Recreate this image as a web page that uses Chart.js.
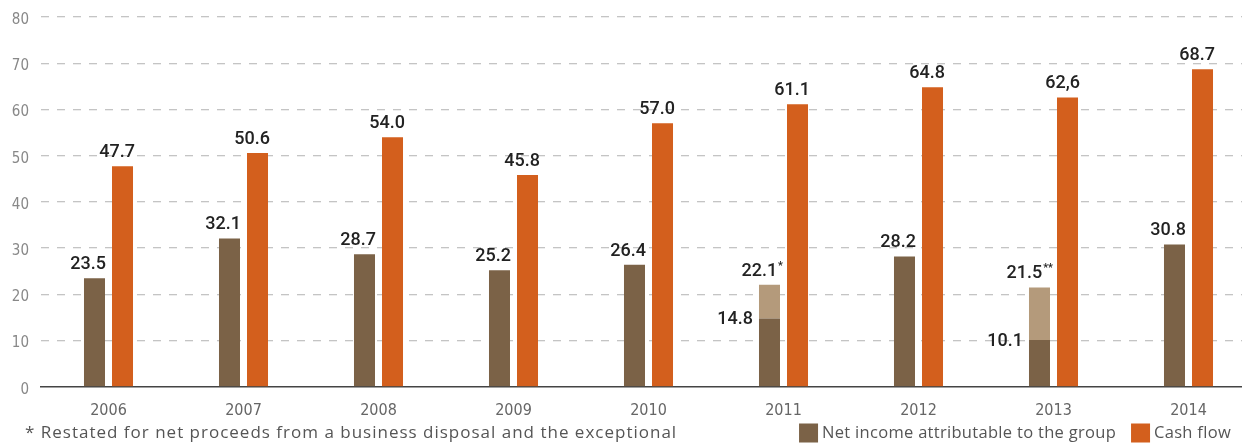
<!DOCTYPE html>
<html>
<head>
<meta charset="utf-8">
<script src="https://cdn.jsdelivr.net/npm/chart.js@4.4.1/dist/chart.umd.min.js"></script>
<style>
  html, body { margin: 0; padding: 0; background: #fff; overflow: hidden; }
  #wrap { width: 1256px; height: 445px; }
</style>
</head>
<body>
<div id="wrap"><canvas id="chart" width="1256" height="445"></canvas></div>
<script>
// values
const years = ['2006', '2007', '2008', '2009', '2010', '2011', '2012', '2013', '2014']
const netIncome = [23.5, 32.1, 28.7, 25.2, 26.4, 14.8, 28.2, 10.1, 30.8]
const restatedNetIncome = [null, null, null, null, null, 22.1, null, 21.5, null]
const restatedMarks = ['', '', '', '', '', '*', '', '**', '']
const cashFlow = [47.7, 50.6, 54.0, 45.8, 57.0, 61.1, 64.8, 62.6, 68.7]
const cashFlowLabels = ['47.7', '50.6', '54.0', '45.8', '57.0', '61.1', '64.8', '62,6', '68.7']
const yTicks = [0, 10, 20, 30, 40, 50, 60, 70, 80]

const footnote = '* Restated for net proceeds from a business disposal and the exceptional'

const BROWN = '#7b6247'
const LIGHT_BROWN = '#b49a7b'
const ORANGE = '#d35f1d'

// the restated part sits on top of the plain net income bar
const restatedPart = restatedNetIncome.map((v, i) => v == null ? null : +(v - netIncome[i]).toFixed(1))

const valueLabels = {
    id: 'valueLabels',
    afterDatasetsDraw(chart){
        const ctx = chart.ctx
        const base = chart.getDatasetMeta(0).data
        const extra = chart.getDatasetMeta(1).data
        const cash = chart.getDatasetMeta(2).data
        ctx.save()
        ctx.fillStyle = '#222'
        ctx.textBaseline = 'alphabetic'
        const big = '500 18px Roboto'
        const small = '500 11px Roboto'
        years.forEach((y, i) => {
            // net income (top of the brown stack)
            const restated = restatedNetIncome[i] != null
            const top = restated ? extra[i] : base[i]
            const txt = restated ? restatedNetIncome[i].toFixed(1) : netIncome[i].toFixed(1)
            const mark = restatedMarks[i]
            ctx.font = big
            const w1 = ctx.measureText(txt).width
            ctx.font = small
            const w2 = mark ? ctx.measureText(mark).width + 1 : 0
            const right = top.x + top.width / 2 + (mark ? 3 : 1)
            ctx.font = big
            ctx.textAlign = 'left'
            ctx.fillText(txt, right - w1 - w2, top.y - 9)
            if (mark){
                ctx.font = small
                ctx.fillText(mark, right - w2 + 1, top.y - 16)
            }
            // plain value next to the stacked bars
            if (restated){
                const b = base[i]
                ctx.font = big
                ctx.textAlign = 'right'
                ctx.textBaseline = 'middle'
                ctx.fillText(netIncome[i].toFixed(1), b.x - b.width / 2 - 6, b.y + 1)
                ctx.textBaseline = 'alphabetic'
            }
            // cash flow
            const c = cash[i]
            ctx.font = big
            ctx.textAlign = 'right'
            ctx.fillText(cashFlowLabels[i], c.x + c.width / 2 + 2, c.y - 9)
        })
        ctx.restore()
    }
}

// footnote on the left, legend squares on the right of the bottom row
const footer = {
    id: 'footer',
    afterDraw(chart){
        const ctx = chart.ctx
        const rowY = 433
        ctx.save()
        ctx.textBaseline = 'middle'
        ctx.textAlign = 'left'
        ctx.fillStyle = '#555'
        ctx.font = '17px "Open Sans"'
        ctx.letterSpacing = '1px'
        ctx.fillText(footnote, 25, rowY)

        ctx.letterSpacing = '0.3px'
        ctx.font = '16.5px "Open Sans"'
        const items = [chart.data.datasets[0], chart.data.datasets[2]]
        const box = 19
        let x = 1231
        for (let k = items.length - 1; k >= 0; k--){
            const ds = items[k]
            const w = ctx.measureText(ds.label).width
            x -= w
            ctx.fillStyle = '#555'
            ctx.fillText(ds.label, x, rowY)
            x -= 4 + box
            ctx.fillStyle = ds.backgroundColor
            ctx.fillRect(x, rowY - box / 2, box, box)
            x -= 15
        }
        ctx.restore()
    }
}

new Chart(document.getElementById('chart'), {
    type: 'bar',
    data: {
        labels: years,
        datasets: [{
            label: 'Net income attributable to the group',
            data: netIncome,
            backgroundColor: BROWN,
            stack: 'net'
        }, {
            label: 'Restated',
            data: restatedPart,
            backgroundColor: LIGHT_BROWN,
            stack: 'net'
        }, {
            label: 'Cash flow',
            data: cashFlow,
            backgroundColor: ORANGE,
            stack: 'cash'
        }]
    },
    options: {
        responsive: false,
        animation: false,
        barPercentage: 0.75,
        categoryPercentage: 0.415,
        layout: { padding: { top: 17, right: 0, left: 0, bottom: 11 } },
        plugins: {
            tooltip: { enabled: false },
            legend: { display: false }
        },
        scales: {
            x: {
                stacked: true,
                grid: { display: false, drawTicks: false },
                border: { display: true, color: '#444', width: 1.5 },
                ticks: {
                    color: '#666',
                    padding: 14,
                    font: { family: '"Liberation Sans Narrow", "DejaVu Sans Condensed", sans-serif', size: 16 }
                }
            },
            y: {
                stacked: true,
                min: 0,
                max: 80,
                afterFit(scale){
                    scale.width = 41
                    scale.paddingTop = 0
                    scale.paddingBottom = 0
                },
                afterBuildTicks(scale){ scale.ticks = yTicks.map(v => ({ value: v })) },
                grid: {
                    drawTicks: false,
                    color: c => c.tick && c.tick.value === 0 ? 'rgba(0,0,0,0)' : '#c4c4c4',
                    lineWidth: 1.3
                },
                border: { display: false, dash: [8, 8] },
                ticks: {
                    color: '#888',
                    padding: 12,
                    labelOffset: 3,
                    font: { family: '"Liberation Sans Narrow", "DejaVu Sans Condensed", sans-serif', size: 15 }
                }
            }
        }
    },
    plugins: [valueLabels, footer]
})
</script>
</body>
</html>
